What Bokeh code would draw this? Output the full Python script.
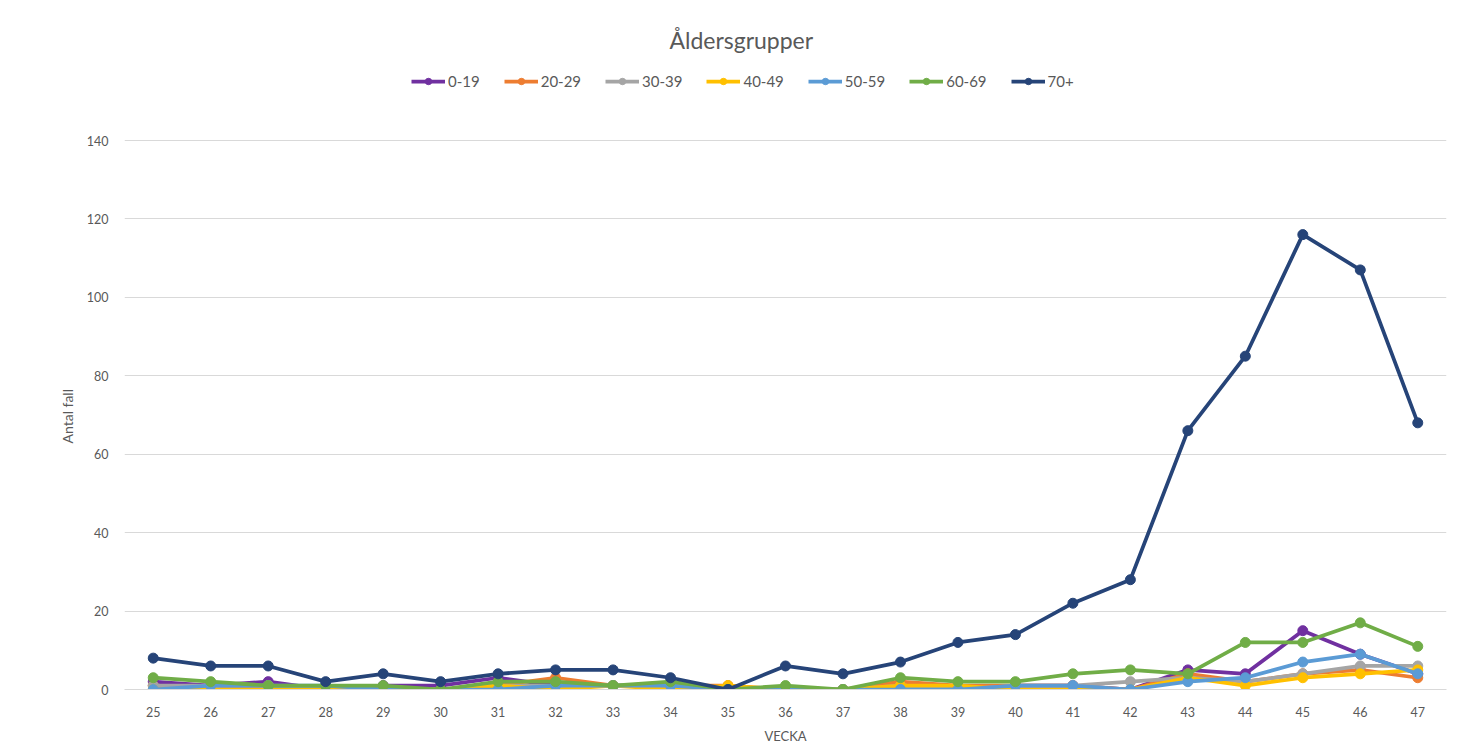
from bokeh.plotting import figure
from bokeh.models import Legend, LegendItem, FixedTicker, FactorRange, Range1d, Title
from bokeh.embed import file_html
from bokeh.resources import INLINE

weeks = [str(w) for w in range(25, 48)]

s_0_19  = [2,1,2,0,1,1,3,1,1,1,0,0,0,1,0,1,1,0,5,4,15,9,4]
s_20_29 = [1,0,1,0,0,0,1,3,1,1,1,0,0,2,1,1,1,0,4,2,4,5,3]
s_30_39 = [1,1,1,0,0,0,1,1,1,1,0,0,0,1,0,1,1,2,3,2,4,6,6]
s_40_49 = [0,0,0,0,0,0,1,0,1,0,1,0,0,1,1,0,0,0,3,1,3,4,5]
s_50_59 = [0,1,1,1,0,0,0,1,1,1,0,0,0,0,0,1,1,0,2,3,7,9,4]
s_60_69 = [3,2,1,1,1,0,2,2,1,2,0,1,0,3,2,2,4,5,4,12,12,17,11]
s_70    = [8,6,6,2,4,2,4,5,5,3,0,6,4,7,12,14,22,28,66,85,116,107,68]

labels = ["0-19", "20-29", "30-39", "40-49", "50-59", "60-69", "70+"]
series = [s_0_19, s_20_29, s_30_39, s_40_49, s_50_59, s_60_69, s_70]
colors = ["#7030A0", "#ED7D31", "#A5A5A5", "#FFC000", "#5B9BD5", "#70AD47", "#264478"]
y_ticks = [0, 20, 40, 60, 80, 100, 120, 140]

FONT = "Lato"
GREY = "#595959"

# frame spans from y=60 to y=689 px; the gridline for 140 sits at y=140 px,
# so the visible range reaches 140 * 629 / 549 above zero (room for the legend)
p = figure(width=1455, height=746, x_range=FactorRange(*weeks, range_padding=0),
           y_range=Range1d(0, 140 * 629 / 549), output_backend="svg", toolbar_location=None,
           min_border_left=124, min_border_right=9, min_border_top=60, min_border_bottom=57)
p.x_range.range_padding = 0
p.outline_line_color = None
p.background_fill_color = "white"
p.border_fill_color = "white"

items = []
for lab, vals, col in zip(labels, series, colors):
    r1 = p.line(weeks, vals, line_color=col, line_width=3.75)
    r2 = p.scatter(weeks, vals, size=10, fill_color=col, line_color=col)
    items.append(LegendItem(label=lab, renderers=[r1, r2]))

legend = Legend(items=items, orientation="horizontal", location=(287, 599),
                label_text_font=FONT, label_text_font_size="15px", label_text_color=GREY,
                glyph_width=34, glyph_height=16, label_standoff=3, spacing=24,
                border_line_color=None, background_fill_alpha=0,
                margin=0, padding=0)
p.add_layout(legend, "center")

p.title = Title(text="Åldersgrupper", align="left", offset=545, standoff=13, text_font=FONT,
                text_font_size="23px", text_color=GREY, text_font_style="normal")

p.yaxis.ticker = FixedTicker(ticks=y_ticks)
p.yaxis.axis_line_color = None
p.yaxis.major_tick_line_color = None
p.yaxis.minor_tick_line_color = None
p.yaxis.major_label_text_font = FONT
p.yaxis.major_label_text_font_size = "12.5px"
p.yaxis.major_label_text_color = GREY
p.yaxis.major_label_standoff = 10

ytitle = Title(text="Antal fall", align="left", offset=246, standoff=15, text_font=FONT,
               text_font_size="14px", text_color=GREY, text_font_style="normal")
p.add_layout(ytitle, "left")

p.xaxis.axis_line_color = "#D9D9D9"
p.xaxis.major_tick_line_color = None
p.xaxis.minor_tick_line_color = None
p.xaxis.major_label_text_font = FONT
p.xaxis.major_label_text_font_size = "12.5px"
p.xaxis.major_label_text_color = GREY
p.xaxis.major_label_standoff = 11
p.xaxis.axis_label = "VECKA"
p.xaxis.axis_label_text_font = FONT
p.xaxis.axis_label_text_font_size = "13px"
p.xaxis.axis_label_text_font_style = "normal"
p.xaxis.axis_label_text_color = GREY
p.xaxis.axis_label_standoff = 8

p.xgrid.grid_line_color = None
p.ygrid.grid_line_color = "#D9D9D9"
p.ygrid.grid_line_width = 1

open("out.html", "w").write(file_html(p, INLINE))
